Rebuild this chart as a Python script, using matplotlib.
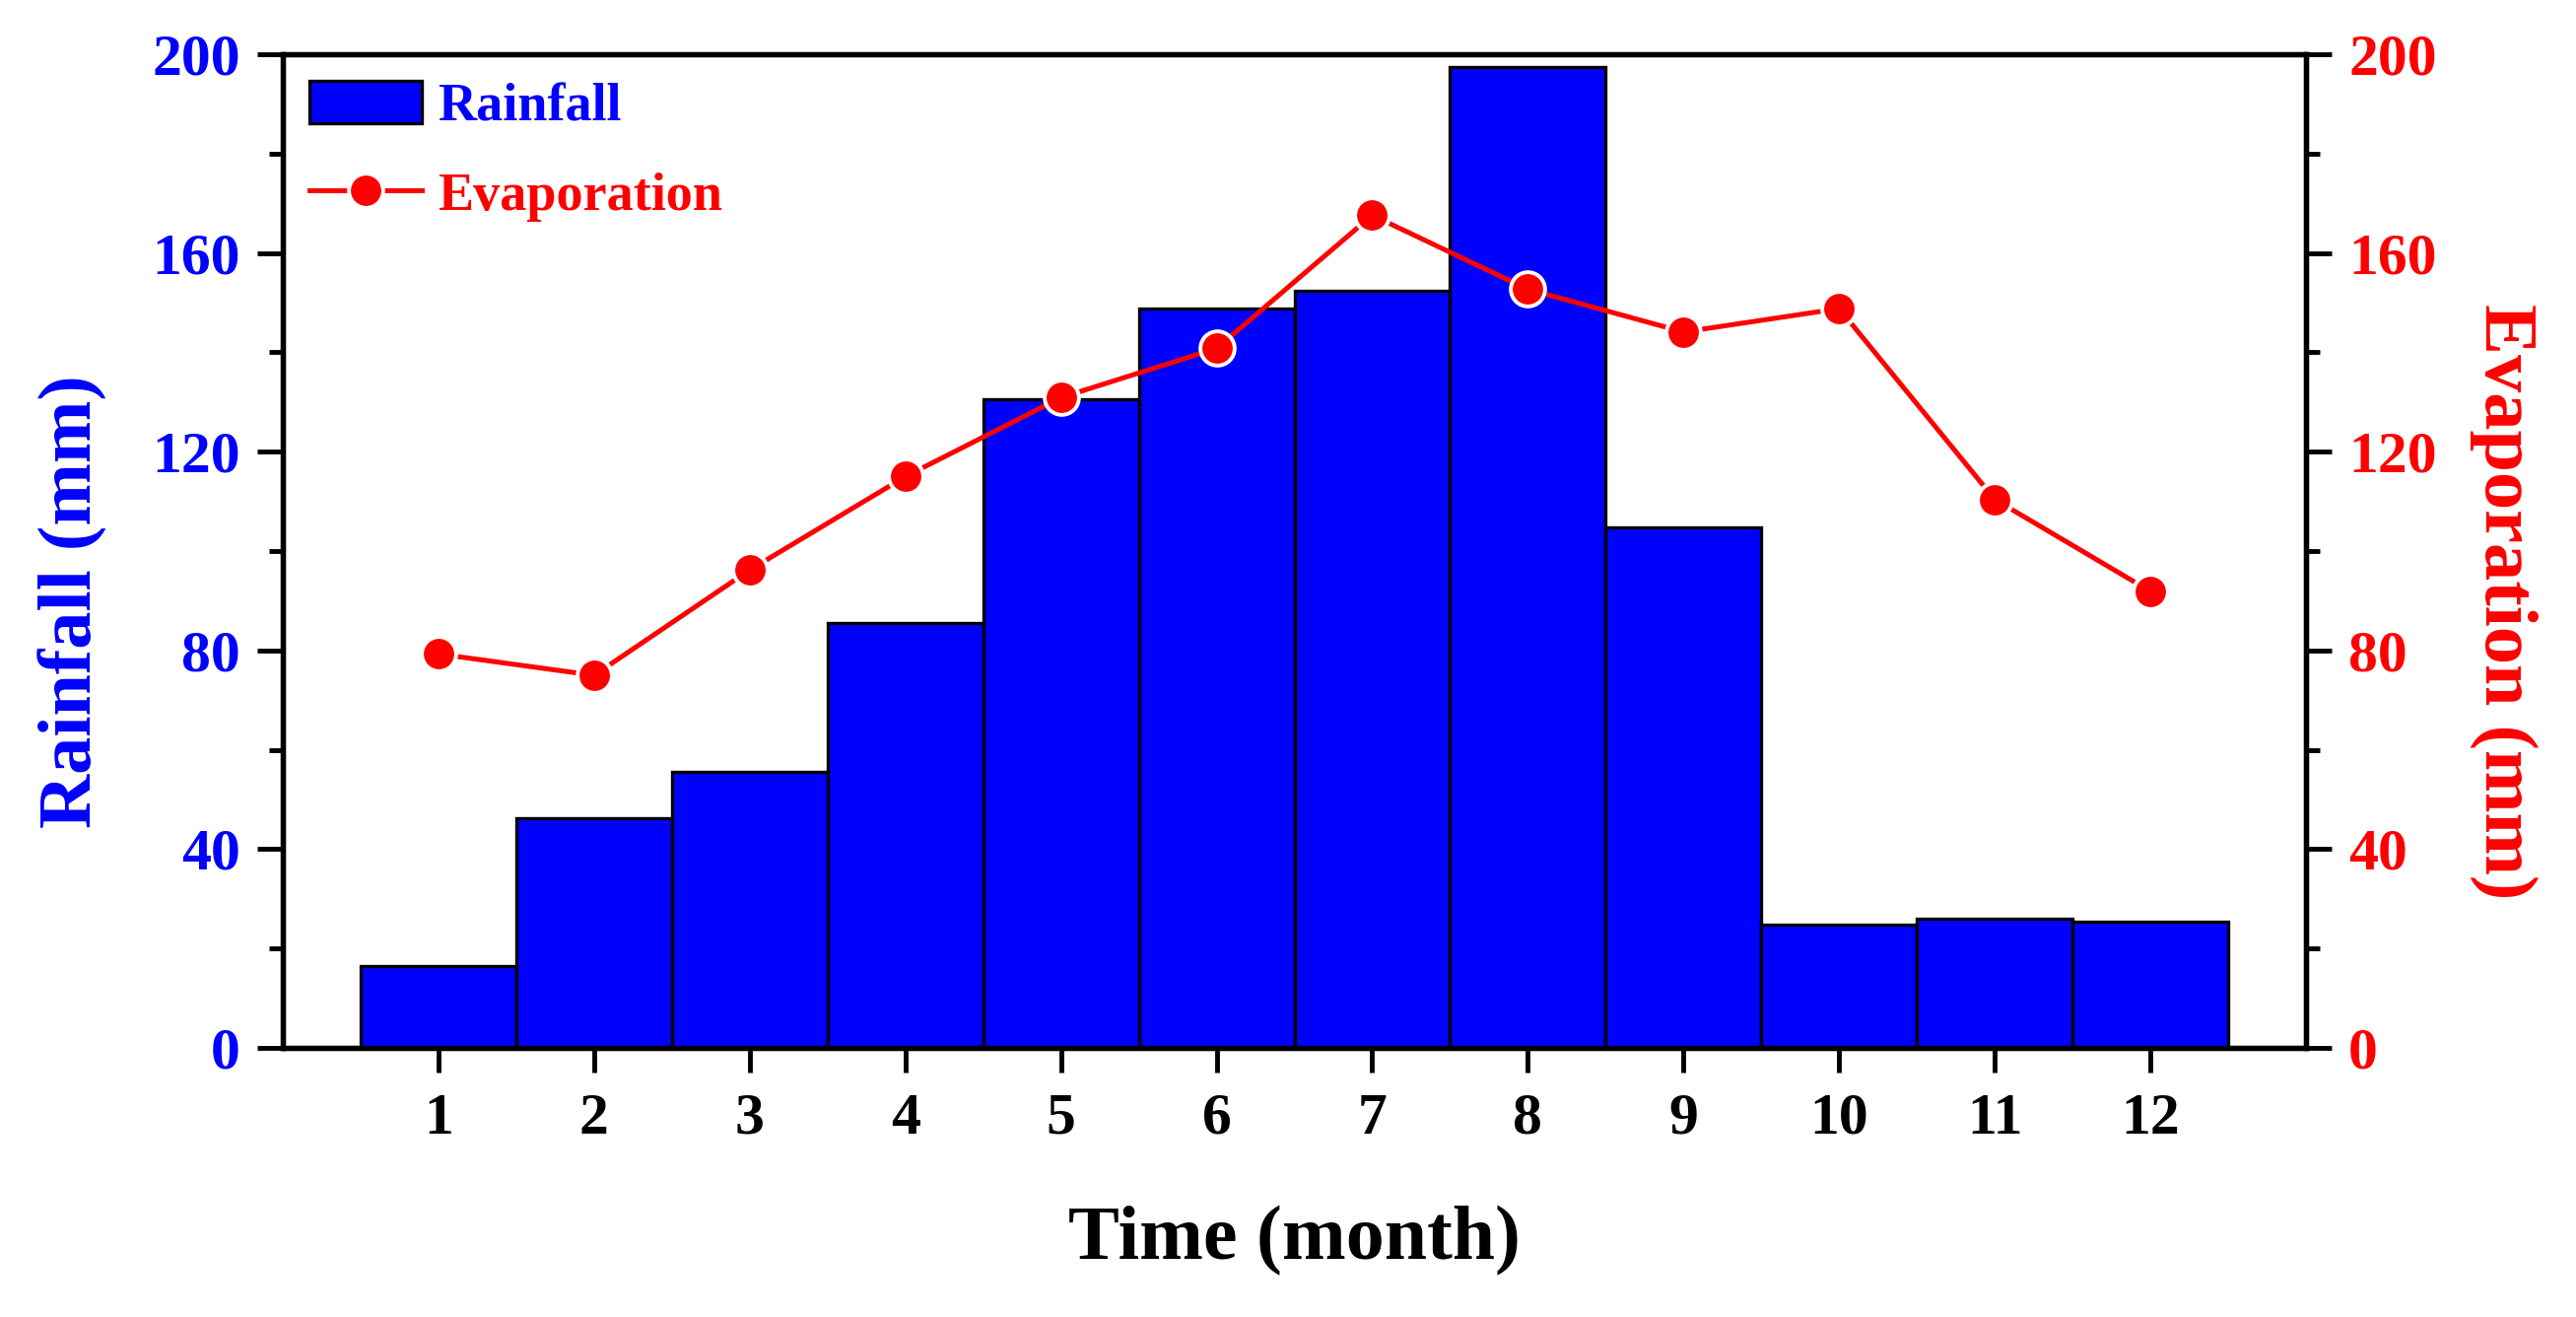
import matplotlib
matplotlib.use("Agg")
import matplotlib.pyplot as plt
from matplotlib.ticker import MultipleLocator

plt.rcParams['font.family'] = ['Liberation Serif', 'DejaVu Serif']
plt.rcParams['font.weight'] = 'bold'

months = [1, 2, 3, 4, 5, 6, 7, 8, 9, 10, 11, 12]
rainfall = [16.5, 46.3, 55.5, 85.6, 130.6, 148.8, 152.4, 197.4, 104.8, 24.8, 26.1, 25.5]
evaporation = [79.3, 75.0, 96.2, 115.0, 130.9, 140.8, 167.6, 152.7, 144.1, 148.8, 110.4, 91.9]

fig = plt.figure(figsize=(26.14, 13.36), dpi=100)
ax = fig.add_axes([0.1098, 0.2043, 0.7854, 0.7545])
ax2 = ax.twinx()

bars = ax.bar(months, rainfall, width=1.0, color="#0000FF",
              edgecolor="black", linewidth=2.4, label="Rainfall", zorder=2)

line, = ax2.plot(months, evaporation, color="#FF0000", linewidth=3.6,
                 marker="o", markersize=25, markerfacecolor="#FF0000",
                 markeredgecolor="white", markeredgewidth=2.8,
                 label="Evaporation", zorder=3)

ax.set_xlim(0, 13)
ax.set_ylim(0, 200)
ax2.set_ylim(0, 200)
ax.set_xticks(months)
ax.yaxis.set_major_locator(MultipleLocator(40))
ax.yaxis.set_minor_locator(MultipleLocator(20))
ax2.yaxis.set_major_locator(MultipleLocator(40))
ax2.yaxis.set_minor_locator(MultipleLocator(20))

for a in (ax, ax2):
    for s in a.spines.values():
        s.set_linewidth(3.8)

ax.tick_params(axis='x', direction='out', length=18, width=3.5,
               labelsize=43, pad=15, colors='black')
ax.tick_params(axis='y', which='major', direction='out', length=19, width=3.5,
               labelsize=43, labelcolor="#0000FF", pad=12)
ax.tick_params(axis='y', which='minor', direction='out', length=10, width=3.5)
ax2.tick_params(axis='y', which='major', direction='out', length=19, width=3.5,
                labelsize=43, labelcolor="#FF0000", pad=12)
ax2.tick_params(axis='y', which='minor', direction='out', length=10, width=3.5)

for lab in ax.get_xticklabels() + ax.get_yticklabels() + ax2.get_yticklabels():
    lab.set_fontweight('bold')

ax.set_xlabel("Time (month)", fontsize=56, fontweight='bold', labelpad=43)
ax.set_ylabel("Rainfall (mm)", fontsize=55, fontweight='bold', color="#0000FF",
              va='center')
ax2.set_ylabel("Evaporation (mm)", fontsize=55, fontweight='bold', color="#FF0000",
               rotation=270, va='center')
ax.yaxis.set_label_coords(-0.1037, 0.449)
ax2.yaxis.set_label_coords(1.0979, 0.449)

leg = ax.legend([bars, line], ["Rainfall", "Evaporation"], loc='upper left',
                frameon=False, handlelength=2.1, handleheight=0.85,
                labelspacing=0.7, handletextpad=0.3, borderaxespad=0.1,
                prop={'weight': 'bold', 'size': 39})
leg.get_texts()[0].set_color("#0000FF")
leg.get_texts()[1].set_color("#FF0000")

fig.savefig("out.png", dpi=100)
